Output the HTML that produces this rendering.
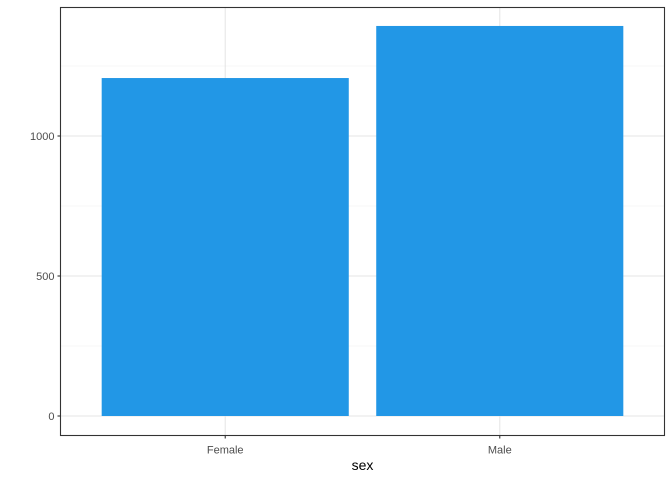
<!DOCTYPE html>
<html><head><meta charset="utf-8"><style>body{margin:0;background:#fff}svg{display:block;font-family:"Liberation Sans",sans-serif}</style></head>
<body>
<svg id="c" width="672" height="480"></svg>
<script>
const categories=["Female","Male"];
const counts=[1207,1393];
const yTicks=[0,500,1000];
const yMinor=[250,750,1250];
const L=60.5,R=664.5,T=7.5,B=435.5;
const y0=416,pxPerUnit=140/500;
const y=v=>y0-v*pxPerUnit;
const step=(R-L)/(categories.length+0.2);
const x=i=>L+step*(0.6+i);
const bw=step*0.9;
const svg=document.getElementById('c');
const NS='http://www.w3.org/2000/svg';
function mk(t,a,p){const e=document.createElementNS(NS,t);for(const k in a)e.setAttribute(k,a[k]);(p||svg).appendChild(e);return e;}
const bg=mk('rect',{x:L,y:T,width:R-L,height:B-T,fill:'#fff'});


yMinor.forEach(v=>{const g=mk('line',{x1:L,x2:R,y1:y(v),y2:y(v),stroke:'#f0f0f0','stroke-width':0.6});

});
yTicks.forEach(v=>{const g=mk('line',{x1:L,x2:R,y1:y(v),y2:y(v),stroke:'#e6e6e6','stroke-width':1.1});

});
categories.forEach((c,i)=>{const g=mk('line',{x1:x(i),x2:x(i),y1:T,y2:B,stroke:'#e6e6e6','stroke-width':1.1});

});
categories.forEach((c,i)=>{const r=mk('rect',{x:x(i)-bw/2,y:y(counts[i]),width:bw,height:y0-y(counts[i]),fill:'#2297e6'});

});
const fr=mk('rect',{x:L,y:T,width:R-L,height:B-T,fill:'none',stroke:'#333','stroke-width':1.1});


yTicks.forEach(v=>{mk('line',{x1:L-3,x2:L,y1:y(v),y2:y(v),stroke:'#333','stroke-width':1.1});
const t=mk('text',{x:L-6,y:y(v)+4,'text-anchor':'end','font-size':11,fill:'#4d4d4d'});t.textContent=v;

});
categories.forEach((c,i)=>{mk('line',{x1:x(i),x2:x(i),y1:B,y2:B+3,stroke:'#333','stroke-width':1.1});
const t=mk('text',{x:x(i),y:B+18,'text-anchor':'middle','font-size':11,fill:'#4d4d4d'});t.textContent=c;

});
const xt=mk('text',{x:(L+R)/2,y:470,'text-anchor':'middle','font-size':14,fill:'#000'});xt.textContent='sex';


</script>
</body></html>
